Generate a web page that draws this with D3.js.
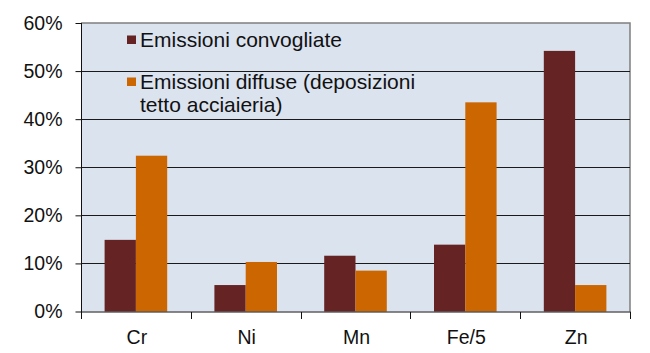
<!DOCTYPE html>
<html>
<head>
<meta charset="utf-8">
<script src="https://cdn.jsdelivr.net/npm/d3@7"></script>
<style>
  html, body { margin: 0; padding: 0; background: #fff; }
  svg { display: block; font-family: "Liberation Sans", Arial, sans-serif; }
</style>
</head>
<body>
<svg id="chart" width="650" height="353"></svg>
<script>
const categories = ["Cr", "Ni", "Mn", "Fe/5", "Zn"];
const seriesNames = ["Emissioni convogliate", "Emissioni diffuse (deposizioni tetto acciaieria)"];
const convogliate = [0.149, 0.055, 0.116, 0.139, 0.542];
const diffuse = [0.324, 0.103, 0.085, 0.435, 0.055];
const yTicks = [0, 0.1, 0.2, 0.3, 0.4, 0.5, 0.6];
const colors = ["#652323", "#CC6600"];

(function () {
const svg = d3.select("#chart");
const pL = 81, pR = 630, pT = 23, pB = 311.5;

const x0 = d3.scaleBand().domain(categories).range([pL, pR]).paddingInner(0.43).paddingOuter(0.215);
const x1 = d3.scaleBand().domain([0, 1]).range([0, x0.bandwidth()]);
const y = d3.scaleLinear().domain([0, 0.6]).range([pB, pT]);

// plot background
svg.append("rect").attr("x", pL).attr("y", pT).attr("width", pR - pL).attr("height", pB - pT)
  .attr("fill", "#dbe3ef");
// top & right border
svg.append("path").attr("d", `M${pL},${pT}H${pR}V${pB}`).attr("fill", "none")
  .attr("stroke", "#7f7f7f").attr("stroke-width", 1.5);

// gridlines
svg.append("g").selectAll("line").data(yTicks.filter(t => t > 0 && t < 0.6)).join("line")
  .attr("x1", pL).attr("x2", pR).attr("y1", d => Math.round(y(d)) + 0.5).attr("y2", d => Math.round(y(d)) + 0.5)
  .attr("stroke", "#1a1a1a").attr("stroke-width", 1);

// bars
const data = categories.map((c, i) => ({ c, v: [convogliate[i], diffuse[i]] }));
const g = svg.append("g").selectAll("g").data(data).join("g").attr("transform", d => `translate(${x0(d.c)},0)`);
g.selectAll("rect").data(d => d.v.map((v, k) => ({ v, k }))).join("rect")
  .attr("x", d => x1(d.k)).attr("width", x1.bandwidth())
  .attr("y", d => y(d.v)).attr("height", d => pB - y(d.v))
  .attr("fill", d => colors[d.k]);

// y axis
const yAxis = d3.axisLeft(y).tickValues(yTicks).tickFormat(d3.format(".0%")).tickSize(6).tickPadding(13);
const ya = svg.append("g").attr("transform", `translate(${pL + 0.5},0)`).call(yAxis);
ya.select(".domain").attr("d", `M0,${pT}V${pB + 7}`).attr("stroke", "#111");
ya.selectAll(".tick line").attr("stroke", "#111");
ya.selectAll(".tick text").attr("font-size", 19.5).attr("fill", "#111").attr("font-family", "Liberation Sans, Arial, sans-serif");

// x axis
const xa = svg.append("g").attr("transform", `translate(0,${pB + 0.5})`);
xa.append("line").attr("x1", pL).attr("x2", pR + 1).attr("stroke", "#111");
const xb = d3.scaleBand().domain(categories).range([pL, pR]);
xa.selectAll("line.tk").data(categories.concat(["end"])).join("line").attr("class", "tk")
  .attr("x1", (d, i) => Math.round(pL + i * xb.step()) + 0.5).attr("x2", (d, i) => Math.round(pL + i * xb.step()) + 0.5)
  .attr("y1", 0).attr("y2", 7).attr("stroke", "#111");
const xAxis = d3.axisBottom(x0).tickSize(0).tickPadding(0);
const xg = svg.append("g").attr("transform", `translate(1,${pB})`).call(xAxis);
xg.select(".domain").remove();
xg.selectAll(".tick text").attr("font-size", 19.5).attr("fill", "#111").attr("dy", null).attr("y", 32)
  .attr("font-family", "Liberation Sans, Arial, sans-serif");

// legend
const leg = svg.append("g");
const legendItems = [
  { name: seriesNames[0], lines: ["Emissioni convogliate"], y: 46.5 },
  { name: seriesNames[1], lines: ["Emissioni diffuse (deposizioni", "tetto acciaieria)"], y: 88.5 }
];
legendItems.forEach((it, k) => {
  leg.append("rect").attr("x", 127).attr("y", it.y - 11).attr("width", 9).attr("height", 8.5).attr("fill", colors[k]);
  const t = leg.append("text").attr("x", 140).attr("y", it.y).attr("font-size", 21).attr("fill", "#111");
  it.lines.forEach((ln, j) => t.append("tspan").attr("x", 140).attr("dy", j === 0 ? 0 : 23.5).text(ln));
});
})();
</script>
</body>
</html>
